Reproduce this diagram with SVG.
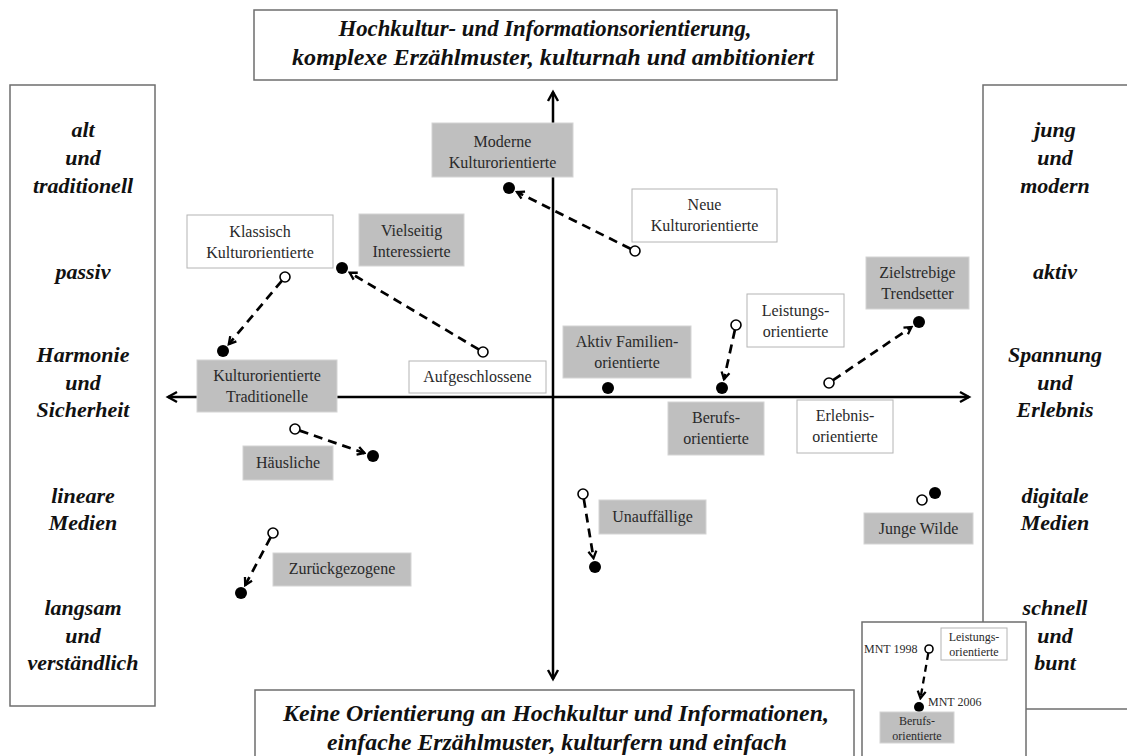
<svg xmlns="http://www.w3.org/2000/svg" width="1127" height="756" viewBox="0 0 1127 756">
<style>
.side{font-family:"Liberation Serif",serif;font-weight:bold;font-style:italic;font-size:22px;fill:#111;text-anchor:middle}
.title{font-family:"Liberation Serif",serif;font-weight:bold;font-style:italic;font-size:23px;fill:#111;text-anchor:middle}
.lbl{font-family:"Liberation Serif",serif;font-size:16px;fill:#2a2a2a;text-anchor:middle}
.sm{font-family:"Liberation Serif",serif;font-size:12px;fill:#2a2a2a}
.frame{fill:#fff;stroke:#6e6e6e;stroke-width:1.5}
.gbox{fill:#bfbfbf;stroke:#d4d4d4;stroke-width:1}
.wbox{fill:#fff;stroke:#b4b4b4;stroke-width:1}
.axis{stroke:#000;stroke-width:2.5;fill:none}
.dash{stroke:#000;stroke-width:2.7;fill:none;stroke-dasharray:9 6}
.open{fill:#fff;stroke:#000;stroke-width:1.6}
.dot{fill:#000}
</style>
<defs>
<marker id="ah" viewBox="0 0 14 14" refX="11" refY="7" markerWidth="14" markerHeight="14" markerUnits="userSpaceOnUse" orient="auto">
<path d="M2,2 L11,7 L2,12" fill="none" stroke="#000" stroke-width="2.4" stroke-dasharray="none"/>
</marker>
<marker id="dh" viewBox="0 0 12 12" refX="10" refY="6" markerWidth="12" markerHeight="12" markerUnits="userSpaceOnUse" orient="auto">
<path d="M3,2 L10,6 L3,10" fill="none" stroke="#000" stroke-width="2.3" stroke-dasharray="none"/>
</marker>
</defs>
<rect width="1127" height="756" fill="#fff"/>

<g id="axes">
<line class="axis" x1="553" y1="397" x2="553" y2="92" marker-end="url(#ah)"/>
<line class="axis" x1="553" y1="397" x2="553" y2="679" marker-end="url(#ah)"/>
<line class="axis" x1="553" y1="397" x2="969" y2="397" marker-end="url(#ah)"/>
<line class="axis" x1="553" y1="397" x2="168" y2="397" marker-end="url(#ah)"/>
</g>

<g id="top-box">
<rect class="frame" x="254" y="10" width="583" height="70"/>
<text class="title" x="545" y="36" textLength="413" lengthAdjust="spacingAndGlyphs">Hochkultur- und Informationsorientierung,</text>
<text class="title" x="553" y="65" textLength="522" lengthAdjust="spacingAndGlyphs">komplexe Erzählmuster, kulturnah und ambitioniert</text>
</g>

<g id="bottom-box">
<rect class="frame" x="255" y="690" width="599" height="80"/>
<text class="title" x="556" y="721" textLength="546" lengthAdjust="spacingAndGlyphs">Keine Orientierung an Hochkultur und Informationen,</text>
<text class="title" x="557" y="750" textLength="460" lengthAdjust="spacingAndGlyphs">einfache Erzählmuster, kulturfern und einfach</text>
</g>

<g id="left-box">
<rect class="frame" x="10" y="85" width="145" height="621"/>
<text class="side" x="83" y="137">alt</text>
<text class="side" x="83" y="165">und</text>
<text class="side" x="83" y="193">traditionell</text>
<text class="side" x="83" y="279">passiv</text>
<text class="side" x="83" y="362">Harmonie</text>
<text class="side" x="83" y="390">und</text>
<text class="side" x="83" y="417">Sicherheit</text>
<text class="side" x="83" y="503">lineare</text>
<text class="side" x="83" y="530">Medien</text>
<text class="side" x="83" y="615">langsam</text>
<text class="side" x="83" y="643">und</text>
<text class="side" x="83" y="670">verständlich</text>
</g>

<g id="right-box">
<rect class="frame" x="983" y="85" width="150" height="624"/>
<text class="side" x="1055" y="137">jung</text>
<text class="side" x="1055" y="165">und</text>
<text class="side" x="1055" y="193">modern</text>
<text class="side" x="1055" y="279">aktiv</text>
<text class="side" x="1055" y="362">Spannung</text>
<text class="side" x="1055" y="390">und</text>
<text class="side" x="1055" y="417">Erlebnis</text>
<text class="side" x="1055" y="503">digitale</text>
<text class="side" x="1055" y="530">Medien</text>
<text class="side" x="1055" y="615">schnell</text>
<text class="side" x="1055" y="643">und</text>
<text class="side" x="1055" y="670">bunt</text>
</g>

<g id="moderne-kulturorientierte">
<rect class="gbox" x="432" y="123" width="141" height="54"/>
<text class="lbl" x="502.5" y="147">Moderne</text>
<text class="lbl" x="502.5" y="168">Kulturorientierte</text>
</g>
<g id="neue-kulturorientierte">
<rect class="wbox" x="632" y="189" width="145" height="53"/>
<text class="lbl" x="704.5" y="210">Neue</text>
<text class="lbl" x="704.5" y="231">Kulturorientierte</text>
</g>
<g id="klassisch-kulturorientierte">
<rect class="wbox" x="187" y="215" width="146" height="53"/>
<text class="lbl" x="260" y="237">Klassisch</text>
<text class="lbl" x="260" y="258">Kulturorientierte</text>
</g>
<g id="vielseitig-interessierte">
<rect class="gbox" x="359" y="214" width="105" height="52"/>
<text class="lbl" x="411.5" y="236">Vielseitig</text>
<text class="lbl" x="411.5" y="257">Interessierte</text>
</g>
<g id="zielstrebige-trendsetter">
<rect class="gbox" x="866" y="257" width="103" height="52"/>
<text class="lbl" x="917.5" y="278">Zielstrebige</text>
<text class="lbl" x="917.5" y="299">Trendsetter</text>
</g>
<g id="leistungsorientierte">
<rect class="wbox" x="747" y="294" width="97" height="53"/>
<text class="lbl" x="795.5" y="316">Leistungs-</text>
<text class="lbl" x="795.5" y="337">orientierte</text>
</g>
<g id="aktiv-familienorientierte">
<rect class="gbox" x="563" y="326" width="128" height="52"/>
<text class="lbl" x="627" y="347">Aktiv Familien-</text>
<text class="lbl" x="627" y="368">orientierte</text>
</g>
<g id="aufgeschlossene">
<rect class="wbox" x="409" y="361" width="137" height="32"/>
<text class="lbl" x="477.5" y="382">Aufgeschlossene</text>
</g>
<g id="kulturorientierte-traditionelle">
<rect class="gbox" x="197" y="360" width="140" height="52"/>
<text class="lbl" x="267" y="381">Kulturorientierte</text>
<text class="lbl" x="267" y="402">Traditionelle</text>
</g>
<g id="berufsorientierte">
<rect class="gbox" x="668" y="402" width="96" height="53"/>
<text class="lbl" x="716" y="423">Berufs-</text>
<text class="lbl" x="716" y="444">orientierte</text>
</g>
<g id="erlebnisorientierte">
<rect class="wbox" x="797" y="400" width="96" height="53"/>
<text class="lbl" x="845" y="421">Erlebnis-</text>
<text class="lbl" x="845" y="442">orientierte</text>
</g>
<g id="haeusliche">
<rect class="gbox" x="243" y="446" width="90" height="34"/>
<text class="lbl" x="288" y="468">Häusliche</text>
</g>
<g id="unauffaellige">
<rect class="gbox" x="599" y="500" width="107" height="34"/>
<text class="lbl" x="652.5" y="522">Unauffällige</text>
</g>
<g id="zurueckgezogene">
<rect class="gbox" x="273" y="553" width="138" height="33"/>
<text class="lbl" x="342" y="574">Zurückgezogene</text>
</g>
<g id="junge-wilde">
<rect class="gbox" x="864" y="513" width="109" height="31"/>
<text class="lbl" x="918.5" y="534">Junge Wilde</text>
</g>

<g id="connectors">
<line class="dash" x1="630.5" y1="248.8" x2="517" y2="192" marker-end="url(#dh)"/>
<line class="dash" x1="281.8" y1="280.8" x2="228.8" y2="344.1" marker-end="url(#dh)"/>
<line class="dash" x1="478.7" y1="349.4" x2="349.7" y2="272.6" marker-end="url(#dh)"/>
<line class="dash" x1="734.9" y1="329.9" x2="724" y2="379.2" marker-end="url(#dh)"/>
<line class="dash" x1="833.1" y1="380.2" x2="911.5" y2="327" marker-end="url(#dh)"/>
<line class="dash" x1="299.7" y1="430.6" x2="364.5" y2="453.1" marker-end="url(#dh)"/>
<line class="dash" x1="270.6" y1="537.4" x2="245.2" y2="585.1" marker-end="url(#dh)"/>
<line class="dash" x1="583.8" y1="498.9" x2="593.5" y2="558.1" marker-end="url(#dh)"/>
</g>

<g id="points">
<circle class="open" cx="635" cy="251" r="5"/><circle class="dot" cx="509" cy="188" r="6"/>
<circle class="open" cx="285" cy="277" r="5"/><circle class="dot" cx="223" cy="351" r="6"/>
<circle class="open" cx="483" cy="352" r="5"/><circle class="dot" cx="342" cy="268" r="6"/>
<circle class="open" cx="736" cy="325" r="5"/><circle class="dot" cx="722" cy="388" r="6"/>
<circle class="open" cx="829" cy="383" r="5"/><circle class="dot" cx="919" cy="322" r="6"/>
<circle class="open" cx="295" cy="429" r="5"/><circle class="dot" cx="373" cy="456" r="6"/>
<circle class="open" cx="273" cy="533" r="5"/><circle class="dot" cx="241" cy="593" r="6"/>
<circle class="open" cx="583" cy="494" r="5"/><circle class="dot" cx="595" cy="567" r="6"/>
<circle class="dot" cx="608" cy="388" r="6"/>
<circle class="open" cx="922" cy="500" r="5"/><circle class="dot" cx="935" cy="493" r="6"/>
</g>

<g id="legend">
<rect class="frame" x="862" y="622" width="164" height="150"/>
<rect class="wbox" x="941" y="628" width="66" height="32"/>
<text class="sm" x="974" y="641" text-anchor="middle">Leistungs-</text>
<text class="sm" x="974" y="656" text-anchor="middle">orientierte</text>
<text class="sm" x="864" y="653">MNT 1998</text>
<text class="sm" x="928" y="706">MNT 2006</text>
<line class="dash" x1="928.3" y1="653" x2="920.5" y2="698.1" style="stroke-width:2.3;stroke-dasharray:7 5" marker-end="url(#dh)"/>
<circle class="open" cx="929" cy="649" r="4"/>
<circle class="dot" cx="919" cy="707" r="5"/>
<rect class="gbox" x="880" y="712" width="74" height="31"/>
<text class="sm" x="917" y="725" text-anchor="middle">Berufs-</text>
<text class="sm" x="917" y="740" text-anchor="middle">orientierte</text>
</g>
</svg>
